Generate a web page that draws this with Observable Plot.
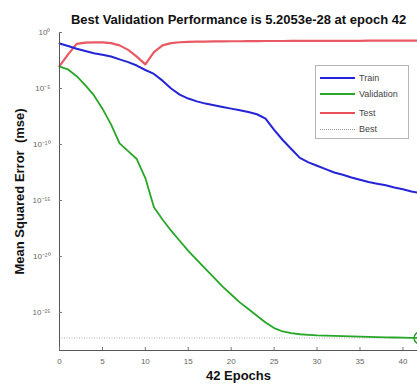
<!DOCTYPE html>
<html>
<head>
<meta charset="utf-8">
<script src="https://cdn.jsdelivr.net/npm/d3@7"></script>
<script src="https://cdn.jsdelivr.net/npm/@observablehq/plot@0.6"></script>
<style>
  html, body { margin: 0; padding: 0; background: #fff; overflow: hidden; }
  #wrap { position: relative; width: 417px; height: 385px; font-family: "Liberation Sans", Arial, sans-serif; }
  #legend { position: absolute; left: 315px; top: 65px; width: 94px; height: 74px; border: 1px solid #b5b5b5; background: #fff; box-sizing: border-box; }
  .row { position: absolute; left: 4px; height: 12px; display: flex; align-items: center; font-size: 9px; color: #444; }
  .sw { width: 35px; margin-right: 4px; }
</style>
</head>
<body>
<div id="wrap"></div>
<script>
// ---- data (log10 of MSE) ----
const epochs = [0,1,2,3,4,5,6,7,8,9,10,11,12,13,14,15,16,17,18,19,20,21,22,23,24,25,26,27,28,29,30,31,32,33,34,35,36,37,38,39,40,41,42];
const trainLog = [-0.98,-1.2,-1.45,-1.65,-1.85,-1.98,-2.15,-2.4,-2.65,-2.95,-3.35,-3.7,-4.3,-5.0,-5.55,-5.9,-6.15,-6.35,-6.5,-6.65,-6.8,-6.95,-7.1,-7.3,-7.7,-8.7,-9.6,-10.4,-11.2,-11.6,-11.9,-12.2,-12.5,-12.7,-12.95,-13.15,-13.35,-13.5,-13.65,-13.85,-14.0,-14.2,-14.35];
const validationLog = [-3.05,-3.3,-3.9,-4.7,-5.6,-6.8,-8.2,-9.9,-10.6,-11.3,-13.0,-15.6,-16.7,-17.7,-18.6,-19.5,-20.3,-21.1,-21.9,-22.7,-23.4,-24.1,-24.7,-25.3,-25.9,-26.4,-26.7,-26.85,-26.95,-27.0,-27.05,-27.08,-27.1,-27.12,-27.14,-27.16,-27.18,-27.2,-27.22,-27.24,-27.25,-27.27,-27.28];
const testLog = [-3.0,-1.95,-1.02,-0.9,-0.88,-0.88,-0.95,-1.15,-1.55,-2.15,-2.85,-1.75,-1.15,-0.95,-0.87,-0.84,-0.82,-0.81,-0.8,-0.79,-0.78,-0.78,-0.77,-0.77,-0.76,-0.76,-0.76,-0.75,-0.75,-0.75,-0.75,-0.74,-0.74,-0.74,-0.74,-0.74,-0.73,-0.73,-0.73,-0.73,-0.73,-0.73,-0.73];
const bestEpoch = 42;
const bestValue = 5.2053e-28;
const xTicks = [0,5,10,15,20,25,30,35,40];
const yTickExponents = [0,-5,-10,-15,-20,-25];
const title = "Best Validation Performance is 5.2053e-28 at epoch 42";
const xLabel = "42 Epochs";
const yLabel = "Mean Squared Error\u00a0\u00a0(mse)";
const seriesNames = ["Train","Validation","Test","Best"];
const seriesColors = ["#2424d6","#27a627","#e8505c","#9a9a9a"];

const rows = [];
epochs.forEach((e,i) => {
  rows.push({epoch: e, mse: 10 ** trainLog[i], s: "Train"});
  rows.push({epoch: e, mse: 10 ** validationLog[i], s: "Validation"});
  rows.push({epoch: e, mse: 10 ** testLog[i], s: "Test"});
});

const sup = {"0":"⁰","1":"¹","2":"²","3":"³","4":"⁴","5":"⁵","6":"⁶","7":"⁷","8":"⁸","9":"⁹","-":"⁻"};
const fmtY = v => "10" + String(Math.round(Math.log10(v))).split("").map(c => sup[c]).join("");

const chart = Plot.plot({
  width: 417, height: 385,
  marginLeft: 59, marginRight: 0, marginTop: 32, marginBottom: 35,
  style: {fontFamily: "'Liberation Sans', Arial, sans-serif", background: "transparent", overflow: "visible"},
  x: {domain: [0, 41.7]},
  y: {type: "log", domain: [10 ** -28.4, 1]},
  marks: [
    Plot.ruleY([bestValue], {stroke: "#999", strokeWidth: 0.8, strokeDasharray: "1,1.5"}),
    Plot.line(rows.filter(d => d.s === "Test"), {x: "epoch", y: "mse", stroke: seriesColors[2], strokeWidth: 2.2, strokeOpacity: 0.95}),
    Plot.line(rows.filter(d => d.s === "Train"), {x: "epoch", y: "mse", stroke: seriesColors[0], strokeWidth: 2}),
    Plot.line(rows.filter(d => d.s === "Validation"), {x: "epoch", y: "mse", stroke: seriesColors[1], strokeWidth: 1.8}),
    Plot.dot([{epoch: bestEpoch, mse: bestValue}], {x: "epoch", y: "mse", r: 6, stroke: "#2a9a2a", strokeWidth: 1.5, fill: "none"}),
    Plot.ruleX([0], {stroke: "#555", strokeWidth: 1}),
    Plot.ruleY([10 ** -28.4], {stroke: "#555", strokeWidth: 1}),
    Plot.axisX({ticks: xTicks, tickSize: 0, tickPadding: 8, fontSize: 8, color: "#666", label: null}),
    Plot.axisX({ticks: xTicks, tickSize: 3, text: null, dy: -3, stroke: "#777", label: null}),
    Plot.axisY({ticks: yTickExponents.map(e => 10 ** e), tickFormat: fmtY, tickSize: 0, tickPadding: 9, fontSize: 8, color: "#666", label: null}),
    Plot.axisY({ticks: yTickExponents.map(e => 10 ** e), tickSize: 3, text: null, dx: 3, stroke: "#777", label: null}),
    Plot.text([title], {frameAnchor: "top", dy: -18, fontSize: 13, fontWeight: "bold", fill: "#111"}),
    Plot.text([xLabel], {frameAnchor: "bottom", dy: 29, fontSize: 13, fontWeight: "bold", fill: "#111"}),
    Plot.text([yLabel], {frameAnchor: "left", dx: -40, rotate: -90, textAnchor: "middle", fontSize: 13, fontWeight: "bold", fill: "#111"})
  ]
});
document.getElementById("wrap").appendChild(chart);

const legend = document.createElement("div");
legend.id = "legend";
const tops = [6, 22, 41, 57];
seriesNames.forEach((n, i) => {
  const r = document.createElement("div");
  r.className = "row";
  r.style.top = tops[i] + "px";
  const sw = document.createElement("span");
  sw.className = "sw";
  sw.style.borderTop = (i === 3 ? "1px dotted " : "2px solid ") + seriesColors[i];
  r.appendChild(sw);
  r.appendChild(document.createTextNode(n));
  legend.appendChild(r);
});
document.getElementById("wrap").appendChild(legend);
</script>
</body>
</html>
